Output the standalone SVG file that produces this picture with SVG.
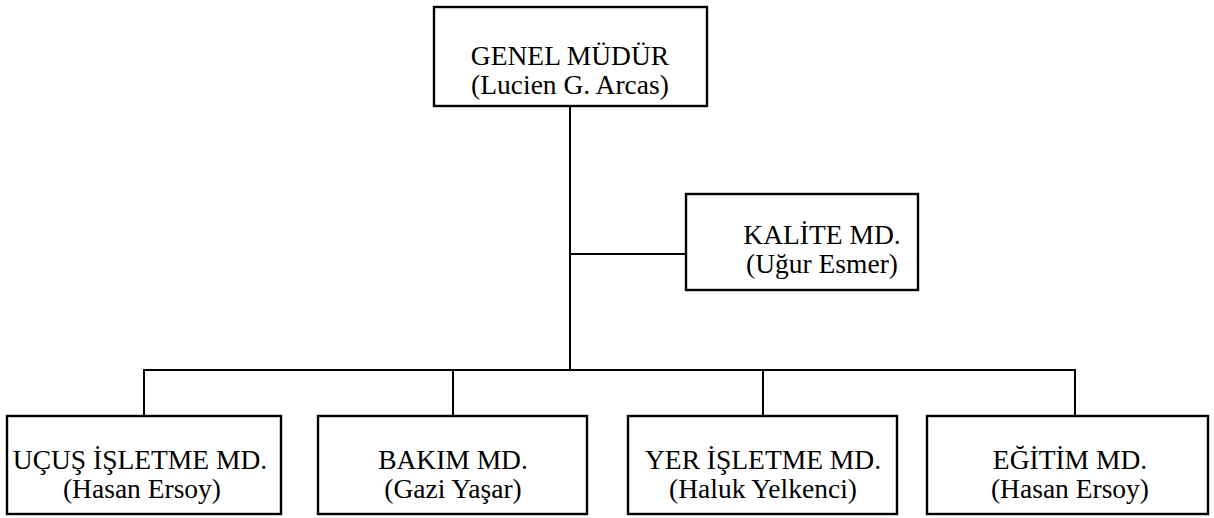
<svg xmlns="http://www.w3.org/2000/svg" width="1214" height="518" viewBox="0 0 1214 518">
  <style>
    .box { fill: #ffffff; stroke: #000000; stroke-width: 2.4; }
    .wire { fill: none; stroke: #000000; stroke-width: 2; }
    .lbl { font-family: "Liberation Serif", "Times New Roman", serif; font-size: 27.5px; fill: #000000; text-anchor: middle; }
  </style>
  <rect width="1214" height="518" fill="#ffffff"/>

  <!-- connectors -->
  <g id="connectors">
    <path class="wire" d="M570 106 V370"/>
    <path class="wire" d="M570 254 H686"/>
    <path class="wire" d="M144 416 V370 H1075 V416"/>
    <path class="wire" d="M453 370 V416"/>
    <path class="wire" d="M763 370 V416"/>
  </g>

  <g id="genel-mudur">
    <rect class="box" x="434" y="7" width="273" height="99"/>
    <text class="lbl" x="570" y="65">GENEL MÜDÜR</text>
    <text class="lbl" x="570" y="94">(Lucien G. Arcas)</text>
  </g>

  <g id="kalite-md">
    <rect class="box" x="686" y="194" width="232" height="96"/>
    <text class="lbl" x="822" y="244">KALİTE MD.</text>
    <text class="lbl" x="822" y="273">(Uğur Esmer)</text>
  </g>

  <g id="ucus-isletme-md">
    <rect class="box" x="7" y="416" width="274" height="98"/>
    <text class="lbl" x="140" y="469">UÇUŞ İŞLETME MD.</text>
    <text class="lbl" x="142" y="498">(Hasan Ersoy)</text>
  </g>

  <g id="bakim-md">
    <rect class="box" x="318" y="416" width="269" height="98"/>
    <text class="lbl" x="453" y="469">BAKIM MD.</text>
    <text class="lbl" x="453" y="498">(Gazi Yaşar)</text>
  </g>

  <g id="yer-isletme-md">
    <rect class="box" x="628" y="416" width="269" height="98"/>
    <text class="lbl" x="763" y="469">YER İŞLETME MD.</text>
    <text class="lbl" x="763" y="498">(Haluk Yelkenci)</text>
  </g>

  <g id="egitim-md">
    <rect class="box" x="927" y="416" width="281" height="98"/>
    <text class="lbl" x="1070" y="469">EĞİTİM MD.</text>
    <text class="lbl" x="1070" y="498">(Hasan Ersoy)</text>
  </g>
</svg>
